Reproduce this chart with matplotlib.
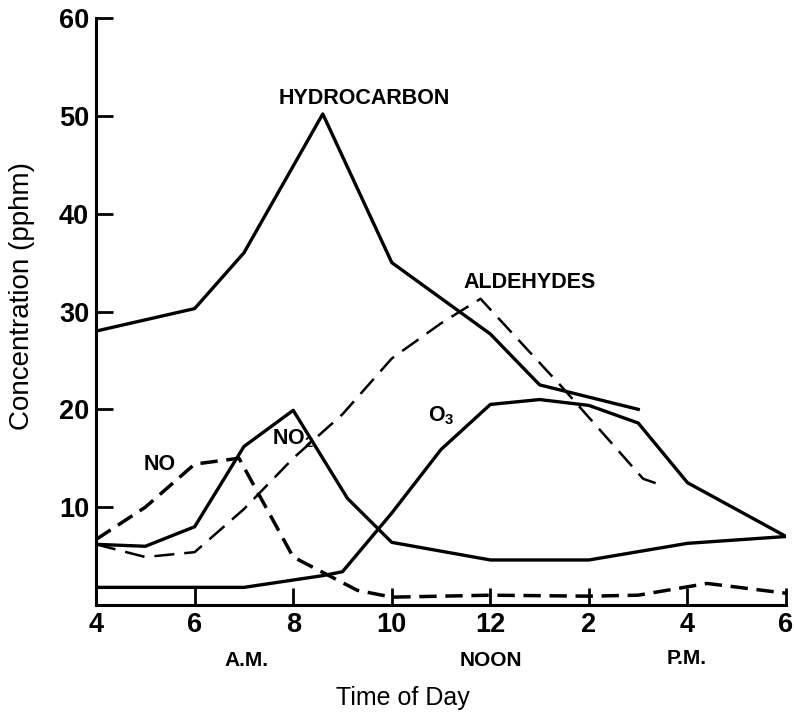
import matplotlib
matplotlib.use('Agg')
import matplotlib.pyplot as plt

plt.rcParams['font.family'] = ['Liberation Sans', 'DejaVu Sans']
plt.rcParams['mathtext.fontset'] = 'custom'
plt.rcParams['mathtext.rm'] = 'Liberation Sans'
plt.rcParams['mathtext.bf'] = 'Liberation Sans:bold'

# readings from the chart (hours, 4 = 4 A.M., 18 = 6 P.M.)
hc_t = [4, 6, 7, 8.6, 10, 12, 13, 15]
hc_c = [28, 30.3, 36, 50.2, 35, 27.7, 22.5, 20]

ald_t = [4, 5, 6, 7, 8, 9, 10, 11, 11.8, 13.45, 15.1, 15.5]
ald_c = [6.2, 4.9, 5.4, 9.8, 15, 19.5, 25.2, 28.8, 31.3, 22.3, 12.9, 12.2]

no_t = [4, 5, 6, 6.9, 8, 9.3, 10, 12, 14, 15, 16.4, 18]
no_c = [6.7, 10, 14.4, 15, 4.9, 1.5, 0.8, 1.0, 0.9, 1.0, 2.2, 1.2]

no2_t = [4, 5, 6, 7, 8, 9.1, 10, 12, 14, 16, 18]
no2_c = [6.2, 6.0, 8.0, 16.2, 19.9, 10.9, 6.4, 4.6, 4.6, 6.3, 7.0]

o3_t = [4, 7, 8.6, 9, 10, 11, 12, 13, 14, 15, 16, 18]
o3_c = [1.8, 1.8, 3.0, 3.4, 9.4, 15.9, 20.5, 21, 20.4, 18.6, 12.5, 7.0]

xticks = [4, 6, 8, 10, 12, 14, 16, 18]
xlabels = ['4', '6', '8', '10', '12', '2', '4', '6']
yticks = [10, 20, 30, 40, 50, 60]

fig = plt.figure(figsize=(7.94, 7.14), dpi=100)
ax = fig.add_axes([0.121, 0.1527, 0.869, 0.822])

ax.plot(hc_t, hc_c, color='black', lw=2.4)
ax.plot(ald_t, ald_c, color='black', lw=1.8, dashes=(8, 4))
ax.plot(no_t, no_c, color='black', lw=2.5, dashes=(5, 2.5))
ax.plot(no2_t, no2_c, color='black', lw=2.4)
ax.plot(o3_t, o3_c, color='black', lw=2.4)

lab = dict(fontsize=15.5, fontweight='bold', ha='center', va='center')
ax.text(9.45, 51.8, 'HYDROCARBON', **lab)
ax.text(12.8, 33.0, 'ALDEHYDES', **lab)
ax.text(8.0, 17.0, r'NO$_{\mathbf{2}}$', **lab)
ax.text(5.3, 14.4, 'NO', **lab)
ax.text(11.0, 19.4, r'O$_{\mathbf{3}}$', **lab)

ax.set_xlim(4, 18)
ax.set_ylim(0, 60)
ax.set_xticks(xticks)
ax.set_xticklabels(xlabels)
ax.set_yticks(yticks)
ax.tick_params(direction='in', length=12, width=2, labelsize=19.5, pad=5)
for t in ax.get_xticklabels() + ax.get_yticklabels():
    t.set_fontweight('bold')

ax.spines['top'].set_visible(False)
ax.spines['right'].set_visible(False)
ax.spines['left'].set_linewidth(2.2)
ax.spines['bottom'].set_linewidth(2.2)

sub = dict(fontsize=15, fontweight='bold', ha='center', va='center')
fig.text(246 / 794, 1 - 661 / 714, 'A.M.', **sub)
fig.text(491 / 794, 1 - 661 / 714, 'NOON', **sub)
fig.text(687 / 794, 1 - 659 / 714, 'P.M.', **sub)
fig.text(403 / 794, 1 - 698 / 714, 'Time of Day', fontsize=18, ha='center', va='center')
fig.text(22 / 794, 1 - 296 / 714, 'Concentration (pphm)', fontsize=20, rotation=90, ha='center', va='center')

fig.savefig('out.png', dpi=100, facecolor='white')
